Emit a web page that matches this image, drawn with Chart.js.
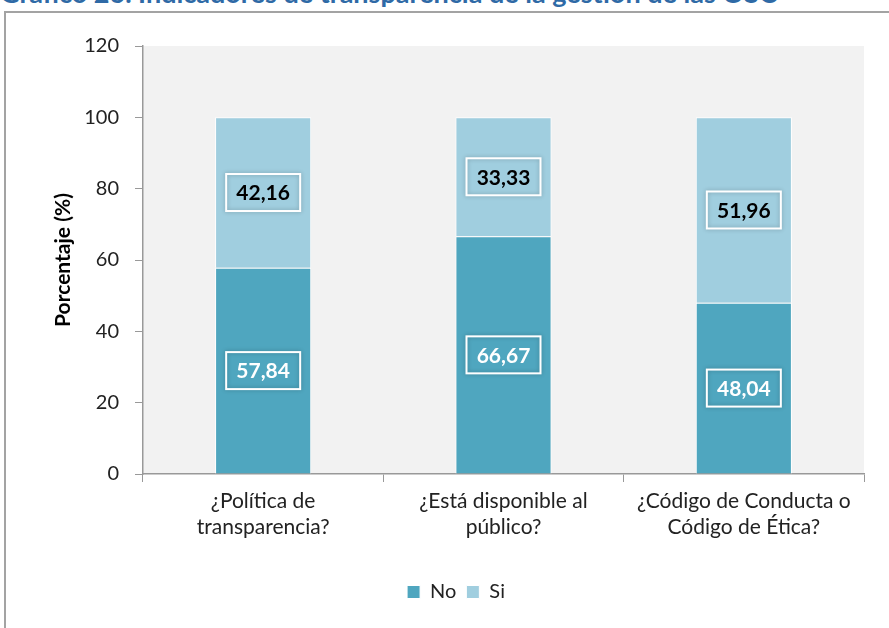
<!DOCTYPE html>
<html>
<head>
<meta charset="utf-8">
<script src="https://cdn.jsdelivr.net/npm/chart.js@4"></script>
<style>
  html, body { margin: 0; padding: 0; background: #fff; overflow: hidden; }
  #wrap { position: relative; width: 889px; height: 628px; }
  #title { position: absolute; left: 0; top: -21px; font: bold 27px Lato, sans-serif; line-height: 1; color: #2f6aa6; white-space: nowrap; }
  #frame { position: absolute; left: 4px; top: 11px; width: 900px; height: 700px; border-left: 2px solid #a3a3a3; border-top: 2px solid #a3a3a3; }
  #chart { position: absolute; left: 0; top: 0; }
</style>
</head>
<body>
<div id="wrap">
  <div id="title">Gráfico 26. Indicadores de transparencia de la gestión de las OSC</div>
  <div id="frame"></div>
  <canvas id="chart" width="889" height="628"></canvas>
</div>
<script>
// datos del gráfico
const categories = [
    ['¿Política de', 'transparencia?'],
    ['¿Está disponible al', 'público?'],
    ['¿Código de Conducta o', 'Código de Ética?']
];
const noValues = [57.84, 66.67, 48.04];
const siValues = [42.16, 33.33, 51.96];
const yTicks = [0, 20, 40, 60, 80, 100, 120];

const fontFamily = 'Lato, "Open Sans", sans-serif';

// fondo gris del área de trazado
const plotBg = {
    id: 'plotBg',
    beforeDraw(chart) {
        const a = chart.chartArea;
        const ctx = chart.ctx;
        ctx.save();
        ctx.fillStyle = '#f2f2f2';
        ctx.fillRect(a.left, a.top, a.right - a.left, a.bottom - a.top);
        ctx.restore();
    }
};

// etiquetas con recuadro blanco
const boxLabels = {
    id: 'boxLabels',
    afterDatasetsDraw(chart) {
        const ctx = chart.ctx;
        ctx.save();
        ctx.font = 'bold 21px ' + fontFamily;
        ctx.textAlign = 'center';
        ctx.textBaseline = 'middle';
        chart.data.datasets.forEach((ds, i) => {
            const meta = chart.getDatasetMeta(i);
            meta.data.forEach((bar, j) => {
                const txt = ds.data[j].toFixed(2).replace('.', ',');
                const y = (bar.y + bar.base) / 2;
                const w = 74, h = 37;
                ctx.shadowColor = 'rgba(0,0,0,0.25)';
                ctx.shadowBlur = 4;
                ctx.strokeStyle = '#ffffff';
                ctx.lineWidth = 2;
                ctx.strokeRect(bar.x - w / 2, y - h / 2, w, h);
                ctx.shadowBlur = 0;
                ctx.shadowColor = 'transparent';
                ctx.fillStyle = i === 0 ? '#ffffff' : '#000000';
                ctx.fillText(txt, bar.x, y + 1);
            });
        });
        ctx.restore();
    }
};

new Chart(document.getElementById('chart').getContext('2d'), {
    type: 'bar',
    data: {
        labels: categories,
        datasets: [{
            label: 'No',
            data: noValues,
            backgroundColor: '#4fa6bf',
            borderColor: '#ffffff',
            borderWidth: 1,
            barPercentage: 0.4,
            categoryPercentage: 1
        }, {
            label: 'Si',
            data: siValues,
            backgroundColor: '#a0cedf',
            borderColor: '#ffffff',
            borderWidth: 1,
            barPercentage: 0.4,
            categoryPercentage: 1
        }]
    },
    options: {
        responsive: false,
        animation: false,
        layout: { padding: { left: 48, right: 25, top: 46, bottom: 16 } },
        scales: {
            x: {
                stacked: true,
                afterFit(scale) { scale.height = 98; },
                grid: { drawOnChartArea: false, offset: true, color: '#999', tickLength: 8 },
                border: { color: '#999', width: 1.5 },
                ticks: { color: '#222', font: { family: fontFamily, size: 21, lineHeight: 1.2 }, padding: 7 }
            },
            y: {
                stacked: true,
                min: 0,
                max: 120,
                afterBuildTicks(scale) { scale.ticks = yTicks.map(v => ({ value: v })); },
                afterFit(scale) { scale.width = 95; },
                grid: { drawOnChartArea: false, color: '#999', tickLength: 8 },
                border: { color: '#999', width: 1.5 },
                ticks: { color: '#222', font: { family: fontFamily, size: 20 }, padding: 16 },
                title: { display: true, text: 'Porcentaje (%)', color: '#000', font: { family: fontFamily, size: 21, weight: 'bold' }, padding: 3 }
            }
        },
        plugins: {
            legend: {
                position: 'bottom',
                labels: { color: '#222', font: { family: fontFamily, size: 20 }, boxWidth: 13, boxHeight: 13, padding: 10 }
            },
            tooltip: { enabled: false }
        }
    },
    plugins: [plotBg, boxLabels]
});
</script>
</body>
</html>
